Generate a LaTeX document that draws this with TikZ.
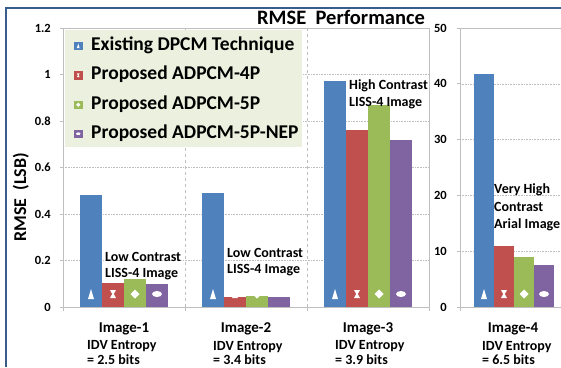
\documentclass[tikz,border=0pt]{standalone}
\usepackage{fontspec}
\setmainfont{Carlito}
\definecolor{cblue}{HTML}{4F81BD}
\definecolor{cred}{HTML}{C0504D}
\definecolor{cgreen}{HTML}{9BBB59}
\definecolor{cpurple}{HTML}{8064A2}
\definecolor{legbg}{HTML}{EBF1DE}
\definecolor{frameblue}{HTML}{385D8A}
\definecolor{gridgray}{HTML}{BFBFBF}
\newcommand\drawbar[4]{\fill[#4] (#1,307) rectangle (#2,#3);}
\tikzset{
  txt/.style={inner sep=0pt, font=\bfseries\fontsize{#1}{#1}\selectfont},
  txt/.default=14,
  gridline/.style={gridgray, densely dotted, line width=0.6pt},
  border/.style={gridgray, line width=0.8pt},
  sep/.style={gridgray, dashed, line width=0.6pt},
  mtri/.pic={\fill[white] (0,-5) -- (3,5) -- (-3,5) -- cycle;},
  mhour/.pic={\fill[white] (-3,-4) -- (3,-4) -- (0.8,0) -- (3,4) -- (-3,4) -- (-0.8,0) -- cycle;},
  mdia/.pic={\fill[white] (0,-4.5) -- (4.5,0) -- (0,4.5) -- (-4.5,0) -- cycle;},
  mell/.pic={\fill[white] (0,0) ellipse (5 and 3);},
}
\begin{document}
\begin{tikzpicture}[x=1pt,y=-1pt]
\useasboundingbox (0,0) rectangle (561,367);
\fill[white] (0,0) rectangle (561,367);
% outer frame
\draw[frameblue, line width=2pt] (6,367) -- (6,8) -- (561,8);
% left plot grid
\foreach \v in {0.2,0.4,0.6,0.8,1.0}{
  \draw[gridline] (63,{307-\v*232.5}) -- (429,{307-\v*232.5});
}
\foreach \v in {0,0.2,0.4,0.6,0.8,1.0,1.2}{
  \draw[border] (60,{307-\v*232.5}) -- (63,{307-\v*232.5});
}
\draw[sep] (185,28) -- (185,307);
\draw[sep] (307,28) -- (307,307);
\draw[border] (63,28) rectangle (429,307);
\foreach \x in {63,185,307,429}{ \draw[border] (\x,307) -- (\x,311); }
% right plot grid
\foreach \v in {10,20,30,40}{
  \draw[gridline] (460,{307-\v*5.58}) -- (561,{307-\v*5.58});
}
\foreach \v in {0,10,20,30,40,50}{
  \draw[border] (457,{307-\v*5.58}) -- (460,{307-\v*5.58});
}
\draw[border] (561,28) -- (460,28) -- (460,307) -- (561,307);
\draw[border] (460,307) -- (460,311);
% legend box
\fill[legbg] (65,30) rectangle (302,147);
% bars image-1
\drawbar{80}{102}{{307-0.48*232.5}}{cblue}
\drawbar{102}{124}{{307-0.105*232.5}}{cred}
\drawbar{124}{146}{{307-0.12*232.5}}{cgreen}
\drawbar{146}{168}{{307-0.10*232.5}}{cpurple}
% image-2
\drawbar{202}{224}{{307-0.49*232.5}}{cblue}
\drawbar{224}{246}{{307-0.043*232.5}}{cred}
\drawbar{246}{268}{{307-0.047*232.5}}{cgreen}
\drawbar{268}{290}{{307-0.043*232.5}}{cpurple}
% image-3
\drawbar{324}{346}{{307-0.97*232.5}}{cblue}
\drawbar{346}{368}{{307-0.76*232.5}}{cred}
\drawbar{368}{390}{{307-0.87*232.5}}{cgreen}
\drawbar{390}{412}{{307-0.72*232.5}}{cpurple}
% image-4
\drawbar{474}{494}{{307-41.7*5.58}}{cblue}
\drawbar{494}{514}{{307-11.0*5.58}}{cred}
\drawbar{514}{534}{{307-9.0*5.58}}{cgreen}
\drawbar{534}{554}{{307-7.5*5.58}}{cpurple}
% markers
\foreach \c in {91,213,335}{
  \pic at (\c,294) {mtri};
  \pic at (\c+22,294) {mhour};
  \pic at (\c+44,294) {mdia};
  \pic at (\c+66,294) {mell};
}
\pic at (484,294) {mtri};
\pic at (504,294) {mhour};
\pic at (524,294) {mdia};
\pic at (544,294) {mell};
% legend entries
\fill[cblue] (74,41.5) rectangle (82.5,50);
\fill[cred] (74,71) rectangle (82.5,79.5);
\fill[cgreen] (74,100.5) rectangle (82.5,109);
\fill[cpurple] (74,129.5) rectangle (82.5,138);
\pic[scale=0.45] at (78.25,45.75) {mtri};
\pic[scale=0.45] at (78.25,75.25) {mhour};
\pic[scale=0.45] at (78.25,104.75) {mdia};
\pic[scale=0.45] at (78.25,133.75) {mell};
\node[txt=19.5, anchor=base west] (l1) at (91,50) {Existing DPCM Technique};
\node[txt=19.5, anchor=base west] (l2) at (91,79) {Proposed ADPCM-4P};
\node[txt=19.5, anchor=base west] (l3) at (91,109) {Proposed ADPCM-5P};
\node[txt=19.5, anchor=base west] (l4) at (91,138) {Proposed ADPCM-5P-NEP};
% title
\node[txt=20.5, anchor=base west] (title) at (257,24) {RMSE\ \ Performance};
% y label
\node[txt=18, anchor=base, rotate=90] (ylab) at (26,197.5) {RMSE\ \ (LSB)};
% left tick labels
\foreach \v/\t in {0/0,0.2/0.2,0.4/0.4,0.6/0.6,0.8/0.8,1.0/1,1.2/1.2}{
  \node[txt=12.5, anchor=east] at (51,{307-\v*232.5}) {\t};
}
\foreach \v in {0,10,20,30,40,50}{
  \node[txt=12.5, anchor=east] at (447,{307-\v*5.58}) {\v};
}
% category labels
\node[txt=15, anchor=base] (c1) at (124,332) {Image-1};
\node[txt=14, anchor=base west] (c1a) at (87,349) {IDV Entropy};
\node[txt=14, anchor=base west] (c1b) at (87,364) {= 2.5 bits};
\node[txt=15, anchor=base] (c2) at (246,332) {Image-2};
\node[txt=14, anchor=base west] (c2a) at (213,350) {IDV Entropy};
\node[txt=14, anchor=base west] (c2b) at (213,364.5) {= 3.4 bits};
\node[txt=15, anchor=base] (c3) at (368,332) {Image-3};
\node[txt=14, anchor=base west] (c3a) at (335,349.5) {IDV Entropy};
\node[txt=14, anchor=base west] (c3b) at (335,364.5) {= 3.9 bits};
\node[txt=15, anchor=base] (c4) at (513,332) {Image-4};
\node[txt=14, anchor=base west] (c4a) at (482,350) {IDV Entropy};
\node[txt=14, anchor=base west] (c4b) at (482,364.5) {= 6.5 bits};
% annotations
\node[txt=14, anchor=base west] (a1a) at (105,261) {Low Contrast};
\node[txt=14, anchor=base west] (a1b) at (105,277) {LISS-4 Image};
\node[txt=14, anchor=base west] (a2a) at (227,257) {Low Contrast};
\node[txt=14, anchor=base west] (a2b) at (227,273) {LISS-4 Image};
\node[txt=14, anchor=base west] (a3a) at (349,89.5) {High Contrast};
\node[txt=14, anchor=base west] (a3b) at (349,106) {LISS-4 Image};
\node[txt=14, anchor=base west] (a4a) at (494,193.5) {Very High};
\node[txt=14, anchor=base west] (a4b) at (494,211) {Contrast};
\node[txt=14, anchor=base west] (a4c) at (494,228.5) {Arial Image};
\end{tikzpicture}
\end{document}
